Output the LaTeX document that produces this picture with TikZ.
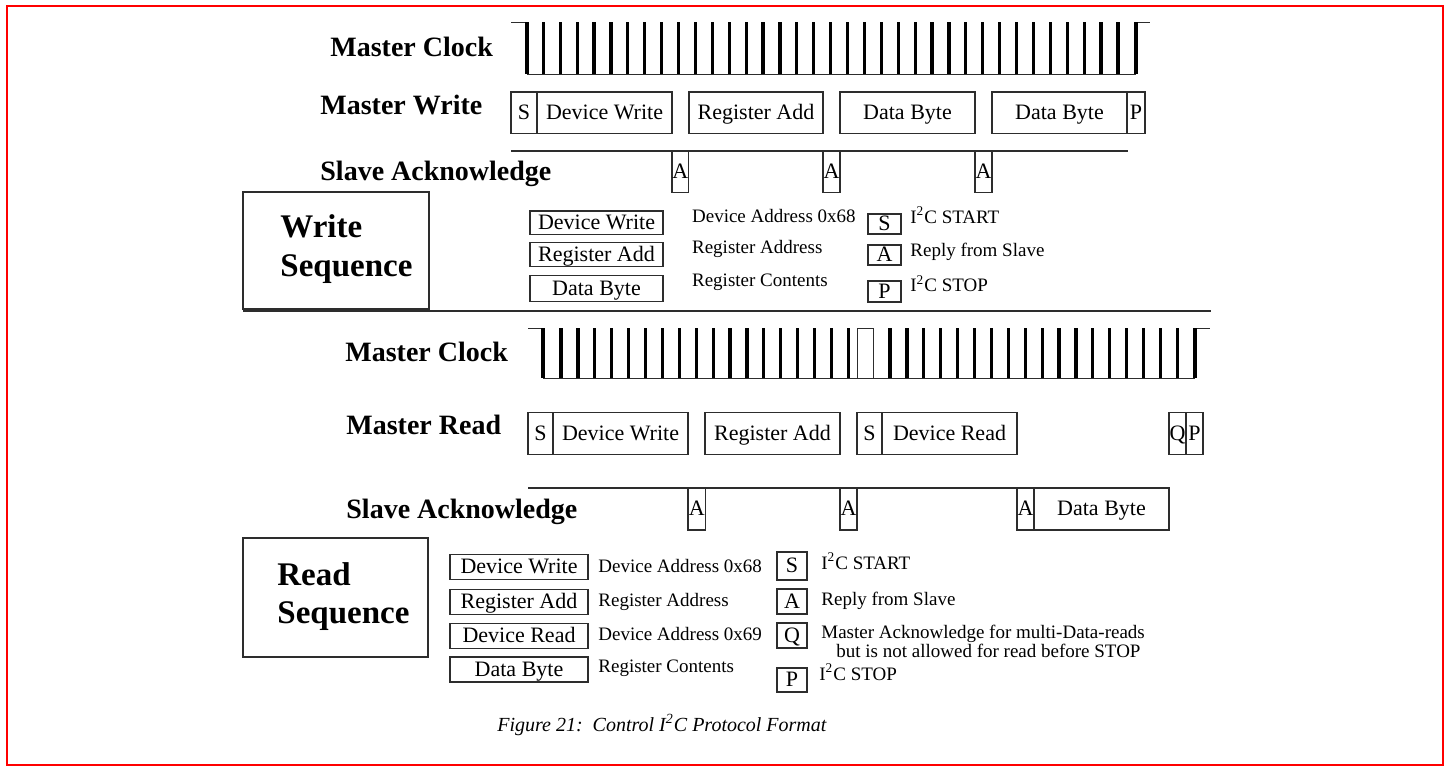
\documentclass[tikz,border=0pt]{standalone}
\usepackage{fontspec}
\setmainfont{Liberation Serif}
\usepackage{xcolor}
\usetikzlibrary{positioning}
\definecolor{framered}{RGB}{255,0,0}
\definecolor{wire}{RGB}{45,45,45}
\tikzset{
  siglbl/.style={font=\bfseries\fontsize{14}{16}\selectfont, anchor=base west, inner sep=0pt},
  seqlbl/.style={font=\bfseries\fontsize{16.5}{20}\selectfont, anchor=base west, inner sep=0pt},
  seg/.style={draw=wire, line width=0.55pt, inner sep=0pt, outer sep=0pt,
              text height=6.8pt, text depth=0pt,
              anchor=north west, font=\fontsize{11}{13}\selectfont},
  desc/.style={font=\fontsize{9.5}{11}\selectfont, anchor=base west, inner sep=0pt},
  clk/.style={line width=0.5pt, draw=wire},
  clkedge/.style={line width=1.6pt, draw=black},
}

\begin{document}
\begin{tikzpicture}[x=0.5pt, y=-0.5pt]
  \useasboundingbox (0,0) rectangle (1450,771);
  \draw[framered, line width=1pt] (7,6) rectangle (1443,765);

  % write: clock
  \node[siglbl] (wclkl) at (330,56) {Master Clock};
  \draw[clk] (511,22) -- (527,22) (527,74) -- (1136,74) (1136,22) -- (1150,22);
  \draw[clkedge] (527,22) -- (527,74) (1136,74) -- (1136,22);
  \foreach \i in {0,...,34}
    \draw[clkedge] ({543.3+16.9*\i},74) -- ++(0,-52);

  % write: master row
  \node[siglbl] (wmstl) at (320,114) {Master Write};
  \foreach \n/\l/\r/\t in {ws/511/537/S, wdw/537/672/Device Write, wra/689/823/Register Add,
                           wdb/840/975/Data Byte, wdc/992/1127/Data Byte, wp/1127/1145/P}
    \node[seg, minimum width={(\r-\l)*0.5pt}, minimum height=20.7pt] (\n) at (\l,92) {\t};

  % write: slave row
  \node[siglbl] (wslvl) at (320,180) {Slave Acknowledge};
  \coordinate (wackl) at (511,151);
  \coordinate (wackr) at (1128,151);
  \draw[wire, line width=0.55pt] (wackl) -- (wackr);
  \foreach \n/\l/\r in {wa1/672/688.5, wa2/823/840, wa3/975/992}
    \node[seg, minimum width={(\r-\l)*0.5pt}, minimum height=20.7pt] (\n) at (\l,151) {A};

  % write: legend
  \node[seg, minimum width=93pt, minimum height=58.5pt] (wseq) at (243,192) {};
  \node[seqlbl] (wseqa) at (280,237) {Write};
  \node[seqlbl] (wseqb) at (280,276) {Sequence};
  \foreach \n/\t/\d/\y/\h in {wk1/Device Write/Device Address 0x68/211/23.3,
                              wk2/Register Add/Register Address/242.7/24,
                              wk3/Data Byte/Register Contents/275.7/26}
  {
    \node[seg, minimum width=66.5pt, minimum height={\h*0.5pt}] (\n) at (530,\y) {\t};
    \node[desc] (\n d) at (691.7,{\y+11}) {\d};
  }
  \foreach \n/\t/\d/\y/\h/\b in {wj1/S/I\textsuperscript{2}C START/214/20/223.3,
                                 wj2/A/Reply from Slave/245/20/256.7,
                                 wj3/P/I\textsuperscript{2}C STOP/281/21/291.7}
  {
    \node[seg, minimum width=16.5pt, minimum height={\h*0.5pt}] (\n) at (868,\y) {\t};
    \node[desc] (\n d) at (910,\b) {\d};
  }

  \draw[wire, line width=0.55pt] (243,311) -- (1211,311);

  % read: clock
  \node[siglbl] (rclkl) at (345,361) {Master Clock};
  \draw[clk] (528,328) -- (543,328) (543,378) -- (1195,378)
             (857,378) -- (857,328) -- (873,328) -- (873,378) (1195,328) -- (1210,328);
  \draw[clkedge] (543,328) -- (543,378) (1195,378) -- (1195,328);
  \foreach \i in {0,...,17} {
    \draw[clkedge] ({561+16.9*\i},378) -- ++(0,-50);
    \draw[clkedge] ({890+16.9*\i},378) -- ++(0,-50);
  }

  % read: master row
  \node[siglbl] (rmstl) at (346,434) {Master Read};
  \foreach \n/\l/\r/\t in {rs/528/553/S, rdw/553/688/Device Write, rra/705/840/Register Add,
                           rt/857/882/S, rdr/882/1017/Device Read, rq/1169/1186/Q, rp/1186/1203/P}
    \node[seg, minimum width={(\r-\l)*0.5pt}, minimum height=20.8pt] (\n) at (\l,412.7) {\t};

  % read: slave row
  \node[siglbl] (rslvl) at (346,518) {Slave Acknowledge};
  \coordinate (rackl) at (528,488);
  \coordinate (rackr) at (1169,488);
  \draw[wire, line width=0.55pt] (rackl) -- (rackr);
  \foreach \n/\l/\r/\t in {ra1/688/705.5/A, ra2/840/857/A, ra3/1017/1034/A, rdb/1034/1169/Data Byte}
    \node[seg, minimum width={(\r-\l)*0.5pt}, minimum height=21pt] (\n) at (\l,488) {\t};

  % read: legend
  \node[seg, minimum width=92.5pt, minimum height=59.5pt] (rseq) at (243,538) {};
  \node[seqlbl] (rseqa) at (277,585) {Read};
  \node[seqlbl] (rseqb) at (277,623) {Sequence};
  \foreach \n/\t/\d/\y/\b in {rk1/Device Write/Device Address 0x68/554.5/572,
                              rk2/Register Add/Register Address/589.5/606,
                              rk3/Device Read/Device Address 0x69/623.5/640.5,
                              rk4/Data Byte/Register Contents/657/672}
  {
    \node[seg, minimum width=69pt, minimum height=12.5pt] (\n) at (450,\y) {\t};
    \node[desc] (\n d) at (598,\b) {\d};
  }
  \foreach \n/\t/\y/\h in {rj1/S/552/28, rj2/A/589/25, rj3/Q/623/25, rj4/P/668/24}
    \node[seg, minimum width=15pt, minimum height={\h*0.5pt}] (\n) at (777,\y) {\t};
  \node[desc] (rj1d) at (821,569) {I\textsuperscript{2}C START};
  \node[desc] (rj2d) at (821,605) {Reply from Slave};
  \node[desc] (rj3d) at (821,638.3) {Master Acknowledge for multi-Data-reads};
  \node[desc] (rj3e) at (836,657.5) {but is not allowed for read before STOP};
  \node[desc] (rj4d) at (819,680) {I\textsuperscript{2}C STOP};

  % caption
  \node[desc, font=\itshape\fontsize{10}{12}\selectfont] (cap) at (497,731)
       {Figure 21:\ \ Control I\textsuperscript{2}C Protocol Format};
\end{tikzpicture}
\end{document}
